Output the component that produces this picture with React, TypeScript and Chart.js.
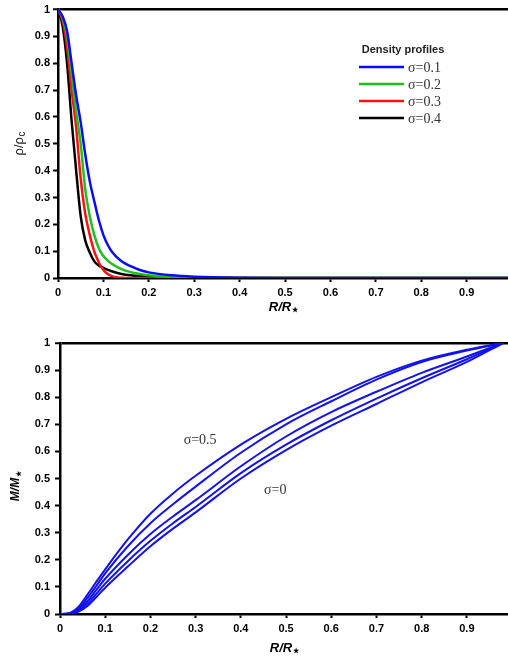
import React, { useEffect, useRef } from 'react';
import { Chart, registerables } from 'chart.js';
Chart.register(...registerables);

// ---------- Top panel: density profiles ----------
const R_RHO = [0, 0.01, 0.02, 0.03, 0.04, 0.05, 0.06, 0.07, 0.08, 0.09, 0.1, 0.11, 0.12, 0.14, 0.16, 0.18, 0.2, 0.25, 0.3, 0.4, 0.5, 0.6, 0.7, 0.8, 0.9, 1.0];
const RHO_S01 = [1, 0.975, 0.92, 0.8, 0.68, 0.58, 0.46, 0.36, 0.285, 0.215, 0.16, 0.122, 0.095, 0.062, 0.044, 0.03, 0.021, 0.01, 0.005, 0.001, 0, 0, 0, 0, 0, 0];
const RHO_S02 = [1, 0.97, 0.9, 0.76, 0.62, 0.5, 0.33, 0.23, 0.16, 0.11, 0.082, 0.064, 0.051, 0.033, 0.022, 0.015, 0.01, 0.004, 0.001, 0, 0, 0, 0, 0, 0, 0];
const RHO_S03 = [1, 0.96, 0.86, 0.7, 0.56, 0.37, 0.24, 0.16, 0.098, 0.058, 0.03, 0.014, 0.006, 0.001, 0, 0, 0, 0, 0, 0, 0, 0, 0, 0, 0, 0];
const RHO_S04 = [1, 0.94, 0.8, 0.585, 0.4, 0.23, 0.14, 0.095, 0.062, 0.046, 0.038, 0.03, 0.024, 0.015, 0.01, 0.007, 0.005, 0.002, 0, 0, 0, 0, 0, 0, 0, 0];
const RHO_LABELS = ['σ=0.1', 'σ=0.2', 'σ=0.3', 'σ=0.4'];
const RHO_COLORS = ['#0a0aff', '#1fbf1f', '#ff1010', '#000000'];
const LEGEND_TITLE = 'Density profiles';

// ---------- Bottom panel: mass profiles ----------
const R_M = [0, 0.02, 0.04, 0.06, 0.08, 0.1, 0.15, 0.2, 0.25, 0.3, 0.4, 0.5, 0.6, 0.7, 0.8, 0.9, 0.98];
const M_A = [0, 0.003, 0.025, 0.07, 0.118, 0.165, 0.275, 0.37, 0.445, 0.51, 0.625, 0.72, 0.8, 0.875, 0.935, 0.975, 1];
const M_B = [0, 0.002, 0.02, 0.058, 0.103, 0.15, 0.25, 0.335, 0.405, 0.47, 0.595, 0.7, 0.785, 0.865, 0.93, 0.972, 1];
const M_C = [0, 0.001, 0.015, 0.046, 0.088, 0.13, 0.218, 0.295, 0.36, 0.42, 0.545, 0.655, 0.745, 0.82, 0.89, 0.95, 1];
const M_D = [0, 0.001, 0.011, 0.037, 0.074, 0.112, 0.195, 0.27, 0.335, 0.395, 0.52, 0.625, 0.715, 0.795, 0.87, 0.94, 1];
const M_E = [0, 0.0005, 0.008, 0.029, 0.062, 0.097, 0.175, 0.25, 0.315, 0.375, 0.5, 0.605, 0.695, 0.775, 0.855, 0.93, 1];
const M_COLOR = '#1212ee';
const NOTE_TEXT = ['σ=0.5', 'σ=0'];
const NOTE_R = [0.31, 0.476];
const NOTE_M = [0.642, 0.458];

const X_MAX = 0.991;

const SANS = "'Liberation Sans', Arial, sans-serif";
const SERIF = "'Liberation Serif', 'Times New Roman', serif";

const fmt = (v: any) => String(Math.round(Number(v) * 10) / 10);

function pts(xs: number[], ys: number[]) {
  return xs.map((x, i) => ({ x, y: ys[i] }));
}

function drawSub(ctx: CanvasRenderingContext2D, cx: number, cy: number, main: string, sub: string, mainFont: string, subFont: string, subDy: number) {
  ctx.font = mainFont;
  const w1 = ctx.measureText(main).width;
  ctx.font = subFont;
  const w2 = ctx.measureText(sub).width;
  const x0 = cx - (w1 + w2) / 2;
  ctx.textAlign = 'left';
  ctx.textBaseline = 'middle';
  ctx.font = mainFont;
  ctx.fillText(main, x0, cy);
  ctx.font = subFont;
  ctx.fillText(sub, x0 + w1 + 0.5, cy + subDy);
}

function scales(yW: number, xH: number, yPad: number) {
  const tickFont = { family: SANS, size: 11, weight: 'bold' as const };
  return {
    x: {
      type: 'linear' as const,
      min: 0,
      max: X_MAX,
      ticks: { stepSize: 0.1, includeBounds: false, color: '#000', font: tickFont, padding: 4, maxRotation: 0, autoSkip: false, callback: fmt },
      grid: { drawOnChartArea: false, color: 'rgba(0,0,0,0)', tickColor: '#000', tickLength: 4, tickWidth: 2 },
      border: { display: true, color: '#000', width: 2.5 },
      afterFit: (s: any) => { s.height = xH; },
    },
    y: {
      type: 'linear' as const,
      min: 0,
      max: 1,
      ticks: { stepSize: 0.1, color: '#000', font: tickFont, padding: yPad, autoSkip: false, callback: fmt },
      grid: {
        drawOnChartArea: true,
        color: (c: any) => (c.tick && Math.abs(c.tick.value - 1) < 1e-9 ? '#000' : 'rgba(0,0,0,0)'),
        lineWidth: (c: any) => (c.tick && Math.abs(c.tick.value - 1) < 1e-9 ? 2.5 : 1),
        tickColor: '#000',
        tickLength: 5,
        tickWidth: 2,
      },
      border: { display: true, color: '#000', width: 2.5 },
      afterFit: (s: any) => { s.width = yW; },
    },
  };
}

const topDecor = {
  id: 'topDecor',
  afterDraw(chart: any) {
    const ctx: CanvasRenderingContext2D = chart.ctx;
    const a = chart.chartArea;
    ctx.save();
    ctx.fillStyle = '#000';
    drawSub(ctx, (a.left + a.right) / 2, a.bottom + 29, 'R/R', '★', `italic bold 13px ${SANS}`, `bold 7px ${SANS}`, 3);
    ctx.save();
    ctx.translate(19, (a.top + a.bottom) / 2);
    ctx.rotate(-Math.PI / 2);
    ctx.fillStyle = '#222';
    drawSub(ctx, 0, 0, 'ρ/ρ', 'c', `13px ${SANS}`, `10px ${SANS}`, 3);
    ctx.restore();
    ctx.fillStyle = '#222';
    ctx.font = `bold 11px ${SANS}`;
    ctx.textAlign = 'center';
    ctx.textBaseline = 'middle';
    ctx.fillText(LEGEND_TITLE, 403, 50);
    chart.data.datasets.forEach((ds: any, i: number) => {
      const y = 67 + i * 17;
      ctx.strokeStyle = ds.borderColor;
      ctx.lineWidth = 2.5;
      ctx.beginPath();
      ctx.moveTo(359, y);
      ctx.lineTo(404, y);
      ctx.stroke();
      ctx.fillStyle = '#333';
      ctx.font = `14px ${SERIF}`;
      ctx.textAlign = 'left';
      ctx.fillText(ds.label, 408, y + 1);
    });
    ctx.restore();
  },
};

const botDecor = {
  id: 'botDecor',
  afterDraw(chart: any) {
    const ctx: CanvasRenderingContext2D = chart.ctx;
    const a = chart.chartArea;
    const xs = chart.scales.x;
    const ys = chart.scales.y;
    ctx.save();
    ctx.fillStyle = '#000';
    drawSub(ctx, (a.left + a.right) / 2, a.bottom + 34, 'R/R', '★', `italic bold 13px ${SANS}`, `bold 7px ${SANS}`, 3);
    ctx.save();
    ctx.translate(16, (a.top + a.bottom) / 2 + 8);
    ctx.rotate(-Math.PI / 2);
    drawSub(ctx, 0, 0, 'M/M', '★', `italic bold 12px ${SANS}`, `bold 7px ${SANS}`, 3);
    ctx.restore();
    ctx.fillStyle = '#333';
    ctx.font = `14px ${SERIF}`;
    ctx.textAlign = 'center';
    ctx.textBaseline = 'middle';
    NOTE_TEXT.forEach((t, i) => {
      ctx.fillText(t, xs.getPixelForValue(NOTE_R[i]), ys.getPixelForValue(NOTE_M[i]));
    });
    ctx.restore();
  },
};

function baseOptions(yW: number, xH: number, padTop: number, yPad: number) {
  return {
    responsive: false,
    animation: false as const,
    layout: { padding: { top: padTop, left: 0, right: 0, bottom: 0 } },
    plugins: { legend: { display: false }, tooltip: { enabled: false } },
    elements: { point: { radius: 0 } },
    scales: scales(yW, xH, yPad),
  };
}

export default function App() {
  const topRef = useRef<HTMLCanvasElement>(null);
  const botRef = useRef<HTMLCanvasElement>(null);

  useEffect(() => {
    const rhoSeries = [RHO_S01, RHO_S02, RHO_S03, RHO_S04];
    const c1 = new Chart(topRef.current!, {
      type: 'line',
      data: {
        datasets: rhoSeries.map((s, i) => ({
          label: RHO_LABELS[i],
          data: pts(R_RHO, s),
          borderColor: RHO_COLORS[i],
          backgroundColor: RHO_COLORS[i],
          borderWidth: 2.5,
          pointRadius: 0,
          cubicInterpolationMode: 'monotone' as const,
          fill: false,
        })),
      },
      options: baseOptions(58, 47, 7, 3) as any,
      plugins: [topDecor],
    });
    const mSeries = [M_A, M_B, M_C, M_D, M_E];
    const c2 = new Chart(botRef.current!, {
      type: 'line',
      data: {
        datasets: mSeries.map((s, i) => ({
          label: 'M' + i,
          data: pts(R_M, s),
          borderColor: M_COLOR,
          backgroundColor: M_COLOR,
          borderWidth: 2,
          pointRadius: 0,
          cubicInterpolationMode: 'monotone' as const,
          fill: false,
        })),
      },
      options: baseOptions(60, 45, 18, 5) as any,
      plugins: [botDecor],
    });
    return () => {
      c1.destroy();
      c2.destroy();
    };
  }, []);

  return (
    <div style={{ position: 'absolute', left: 0, top: 0, width: 508, height: 659, background: '#fff', overflow: 'hidden' }}>
      <canvas ref={topRef} width={508} height={325} style={{ display: 'block', width: 508, height: 325 }} />
      <canvas ref={botRef} width={508} height={334} style={{ display: 'block', width: 508, height: 334 }} />
    </div>
  );
}
